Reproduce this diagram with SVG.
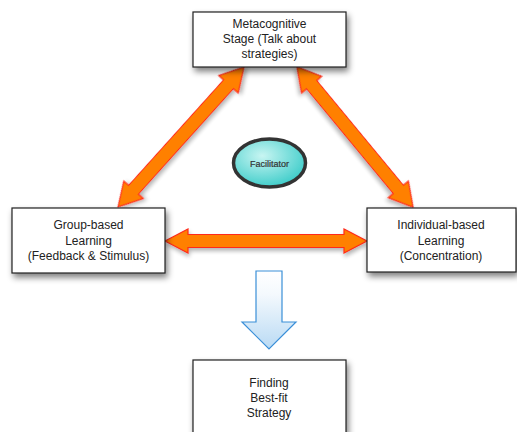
<svg xmlns="http://www.w3.org/2000/svg" width="517" height="432" viewBox="0 0 517 432">
<defs>
<style>
.box{fill:#fff;stroke:#222;stroke-width:1.2;filter:url(#sh)}
.t{font-family:"Liberation Sans",Arial,sans-serif;font-size:12px;fill:#222;text-anchor:middle}
.arr{fill:#ff8000;stroke:#ff2a1a;stroke-width:1.2;stroke-linejoin:miter;filter:url(#sh2)}
</style>
<filter id="sh" x="-20%" y="-20%" width="150%" height="160%">
<feGaussianBlur in="SourceAlpha" stdDeviation="3"/>
<feOffset dx="2" dy="4" result="b"/>
<feComponentTransfer><feFuncA type="linear" slope="0.5"/></feComponentTransfer>
<feMerge><feMergeNode/><feMergeNode in="SourceGraphic"/></feMerge>
</filter>
<filter id="sh2" x="-20%" y="-40%" width="140%" height="180%">
<feGaussianBlur in="SourceAlpha" stdDeviation="2"/>
<feOffset dx="1" dy="3"/>
<feComponentTransfer><feFuncA type="linear" slope="0.3"/></feComponentTransfer>
<feMerge><feMergeNode/><feMergeNode in="SourceGraphic"/></feMerge>
</filter>
<radialGradient id="cy" cx="0.4" cy="0.35" r="0.7">
<stop offset="0" stop-color="#c8f5f2"/>
<stop offset="1" stop-color="#38cbc8"/>
</radialGradient>
<linearGradient id="bl" x1="0" y1="0" x2="0" y2="1">
<stop offset="0" stop-color="#ffffff"/>
<stop offset="0.3" stop-color="#f4f9fd"/>
<stop offset="1" stop-color="#b9daf4"/>
</linearGradient>
</defs>
<g id="connectors">
<polygon class="arr" transform="translate(181,137) rotate(-48)" points="-94,0 -71,-13 -71,-6.5 71,-6.5 71,-13 94,0 71,13 71,6.5 -71,6.5 -71,13"/>
<polygon class="arr" transform="translate(355,137) rotate(50.4)" points="-91,0 -68,-13 -68,-6.5 68,-6.5 68,-13 91,0 68,13 68,6.5 -68,6.5 -68,13"/>
<polygon class="arr" transform="translate(266,241)" points="-101,0 -78,-12 -78,-6.5 78,-6.5 78,-12 101,0 78,12 78,6.5 -78,6.5 -78,12"/>
<polygon points="256,271 282,271 282,322 296,322 269,349 242,322 256,322" fill="url(#bl)" stroke="#3a8fd8" stroke-width="1.2" stroke-linejoin="miter"/>
</g>
<g id="metacognitive">
<rect class="box" x="193" y="12" width="153" height="55"/>
<text class="t" x="269.5" y="28">Metacognitive</text>
<text class="t" x="269.5" y="43">Stage (Talk about</text>
<text class="t" x="269.5" y="58">strategies)</text>
</g>
<g id="group">
<rect class="box" x="12" y="208" width="153" height="65"/>
<text class="t" x="88.5" y="229">Group-based</text>
<text class="t" x="88.5" y="245">Learning</text>
<text class="t" x="88.5" y="260">(Feedback &amp; Stimulus)</text>
</g>
<g id="individual">
<rect class="box" x="367" y="208" width="149" height="64"/>
<text class="t" x="441" y="229">Individual-based</text>
<text class="t" x="441" y="245">Learning</text>
<text class="t" x="441" y="260">(Concentration)</text>
</g>
<g id="facilitator">
<ellipse cx="269.5" cy="163" rx="36" ry="24" fill="url(#cy)" stroke="#333" stroke-width="3.5"/>
<text x="269.5" y="166.5" font-family="'Liberation Sans',Arial,sans-serif" font-size="9" fill="#333" stroke="#333" stroke-width="0.2" text-anchor="middle">Facilitator</text>
</g>
<g id="finding">
<rect class="box" x="193" y="360" width="153" height="85"/>
<text class="t" x="269" y="387">Finding</text>
<text class="t" x="269" y="402">Best-fit</text>
<text class="t" x="269" y="417">Strategy</text>
</g>
</svg>
